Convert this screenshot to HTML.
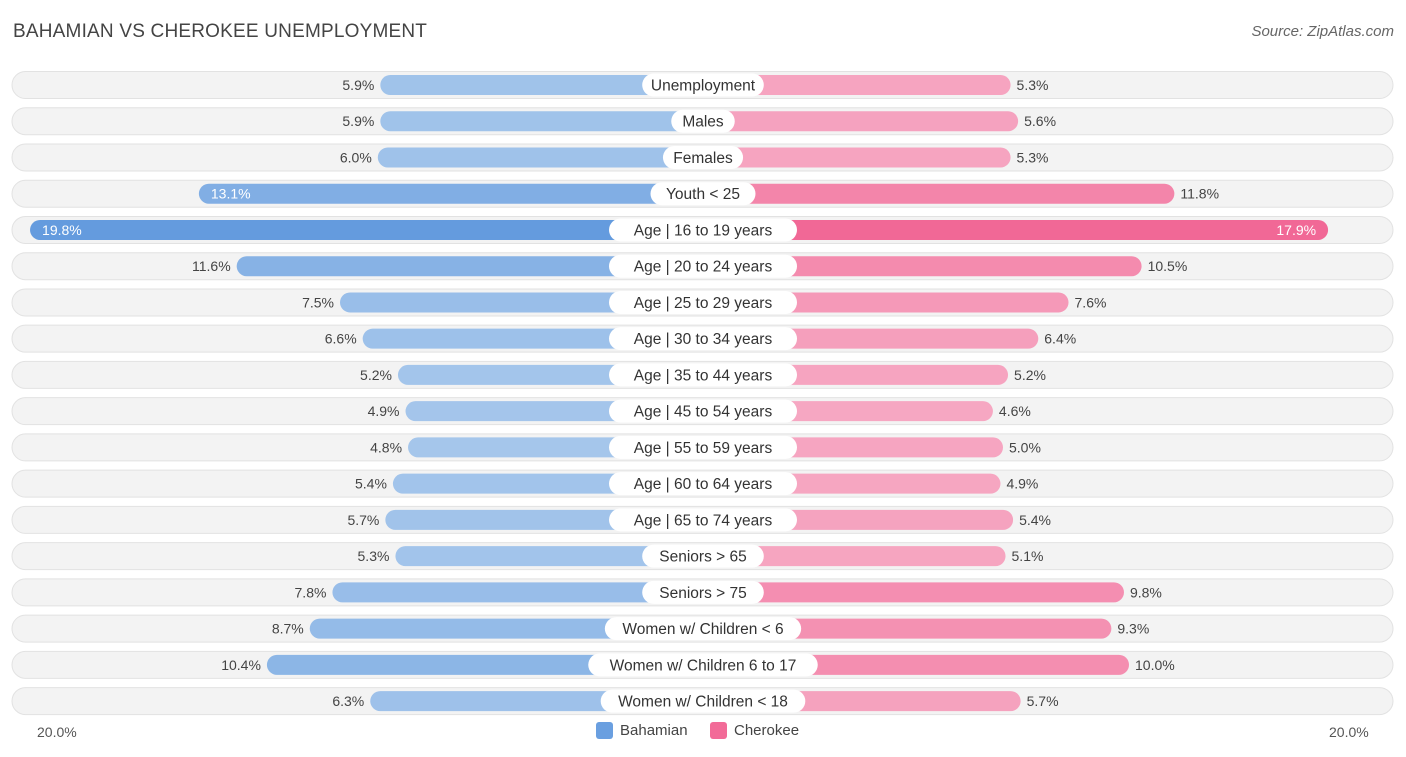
<!DOCTYPE html>
<html><head><meta charset="utf-8">
<style>
body{margin:0;width:1406px;height:757px;background:#fff;font-family:"Liberation Sans",Arial,sans-serif;overflow:hidden;position:relative}
.title{position:absolute;left:13px;top:21px;font-size:19px;color:#444;letter-spacing:0.2px}
.source{position:absolute;right:12px;top:23px;font-size:15px;color:#666;font-style:italic}
.ax{position:absolute;top:724px;font-size:14px;color:#555}
.leg{position:absolute;top:722px;font-size:15px;color:#444;display:flex;align-items:center}
.sw{width:17px;height:17px;border-radius:3px;margin-right:7px}
</style></head><body>
<div class="title">BAHAMIAN VS CHEROKEE UNEMPLOYMENT</div>
<div class="source">Source: ZipAtlas.com</div>
<svg id="chart" width="1406" height="757" style="position:absolute;left:0;top:0"></svg>
<div class="ax" style="left:37px">20.0%</div>
<div class="ax" style="left:1329px">20.0%</div>
<div class="leg" style="left:596px"><div class="sw" style="background:#6a9fe0"></div>Bahamian</div>
<div class="leg" style="left:710px"><div class="sw" style="background:#f26b98"></div>Cherokee</div>
<script>
const categories=["Unemployment","Males","Females","Youth < 25","Age | 16 to 19 years","Age | 20 to 24 years","Age | 25 to 29 years","Age | 30 to 34 years","Age | 35 to 44 years","Age | 45 to 54 years","Age | 55 to 59 years","Age | 60 to 64 years","Age | 65 to 74 years","Seniors > 65","Seniors > 75","Women w/ Children < 6","Women w/ Children 6 to 17","Women w/ Children < 18"];
const bahamian=[5.9,5.9,6.0,13.1,19.8,11.6,7.5,6.6,5.2,4.9,4.8,5.4,5.7,5.3,7.8,8.7,10.4,6.3];
const cherokee=[5.3,5.6,5.3,11.8,17.9,10.5,7.6,6.4,5.2,4.6,5.0,4.9,5.4,5.1,9.8,9.3,10.0,5.7];
const NS="http://www.w3.org/2000/svg";
const svg=document.getElementById('chart');
const cx=703,base=174,k=25.2,y0=85,dy=36.24,bh=20;
function len(v){return base+v*k;}
function mix(a,b,t){return 'rgb('+a.map((x,i)=>Math.round(x+(b[i]-x)*t)).join(',')+')';}
function el(tag,attrs){const e=document.createElementNS(NS,tag);for(const a in attrs)e.setAttribute(a,attrs[a]);svg.appendChild(e);return e;}
categories.forEach((c,i)=>{
  const y=y0+i*dy;
  const bg=el('rect',{x:12,y:y-13.5,width:1381,height:27,rx:13.5,fill:'#f3f3f3',stroke:'#e2e2e2','stroke-width':1});
  
  
  const b=bahamian[i],ch=cherokee[i];
  const tb=Math.min(1,Math.max(0,(b-4)/15.8)),tc=Math.min(1,Math.max(0,(ch-4)/13.9));
  const lb=len(b);
  const rb=el('rect',{x:cx-lb,y:y-bh/2,width:lb,height:bh,rx:10,fill:mix([168,200,236],[100,155,222],tb)});
  
  
  const lc=len(ch);
  const rc=el('rect',{x:cx,y:y-bh/2,width:lc,height:bh,rx:10,fill:mix([246,170,196],[241,104,150],tc)});
  
  
  // category label
  const tw=c.length*8.3+22;
  const lab=el('rect',{x:cx-tw/2,y:y-11.5,width:tw,height:23,rx:11.5,fill:'#fff'});
  
  
  const t=el('text',{x:cx,y:y+5.5,'text-anchor':'middle','font-size':15.5,fill:'#333'});
  t.textContent=c;
  
  
  const inB=b>=12,inC=ch>=12;
  const vb=el('text',{x:inB?cx-lb+12:cx-lb-6,y:y+5,'text-anchor':inB?'start':'end','font-size':14,fill:inB?'#fff':'#444'});
  vb.textContent=b.toFixed(1)+'%';
  
  
  const vc=el('text',{x:inC?cx+lc-12:cx+lc+6,y:y+5,'text-anchor':inC?'end':'start','font-size':14,fill:inC?'#fff':'#444'});
  vc.textContent=ch.toFixed(1)+'%';
  
  
});
</script>
</body></html>
